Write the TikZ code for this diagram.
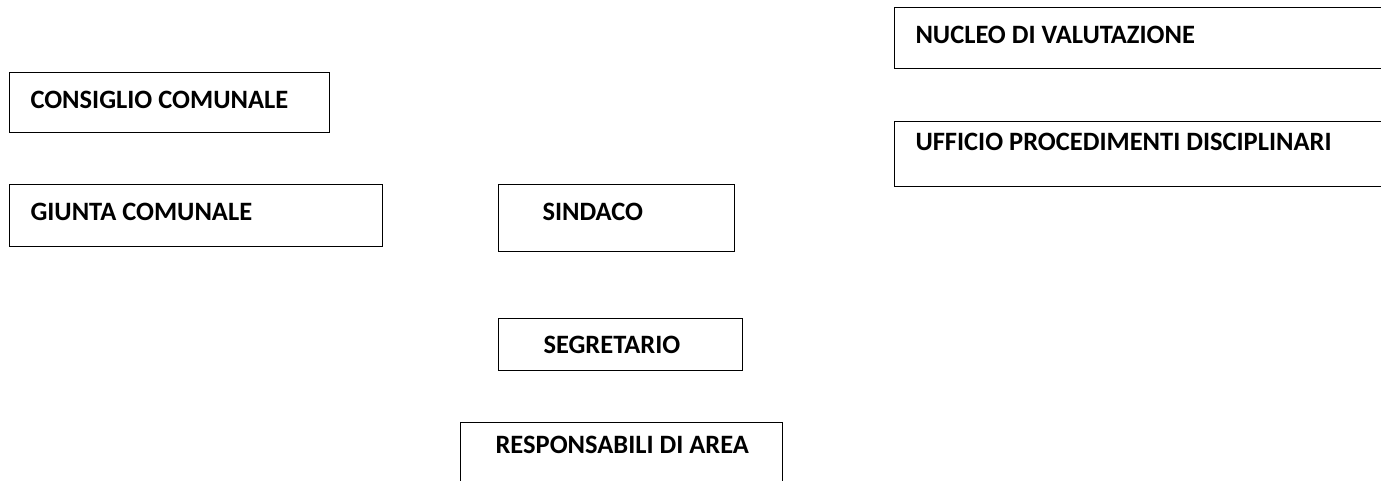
\documentclass[tikz,border=0pt]{standalone}
\usepackage{fontspec}
\setmainfont{Carlito}
\begin{document}
\begin{tikzpicture}[x=1pt,y=-1pt,
  box/.style={draw=black, line width=1pt, anchor=north west, inner sep=0pt,
    align=left, font=\bfseries\fontsize{26.5}{30}\selectfont}]
\useasboundingbox (0,0) rectangle (1381,480);
% #1 name, #2 x0, #3 y0, #4 x1, #5 y1, #6 text x, #7 baseline, #8 text
\newcommand\orgbox[8]{%
  \node[box, text width=\dimexpr #4pt-#2pt\relax,
    text height=\dimexpr #7pt-#3pt\relax, text depth=\dimexpr #5pt-#7pt\relax]
    (#1) at (#2,#3) {\spaceskip=0pt\xspaceskip=0pt\hspace*{\dimexpr #6pt-#2pt\relax}#8};}
\orgbox{nucleo}{894}{7}{1390}{68}{915}{43}{NUCLEO DI VALUTAZIONE}
\orgbox{ufficio}{894}{121}{1390}{186}{915}{150}{UFFICIO PROCEDIMENTI DISCIPLINARI}
\orgbox{consiglio}{9}{72}{329}{132}{30}{108}{CONSIGLIO COMUNALE}
\orgbox{giunta}{9}{184}{382}{246}{30}{220}{GIUNTA COMUNALE}
\orgbox{sindaco}{498}{184}{734}{251}{542}{220}{SINDACO}
\orgbox{segretario}{498}{318}{742}{370}{543}{353}{SEGRETARIO}
\orgbox{responsabili}{460}{422}{782}{495}{495}{453}{RESPONSABILI DI AREA}
\end{tikzpicture}
\end{document}
